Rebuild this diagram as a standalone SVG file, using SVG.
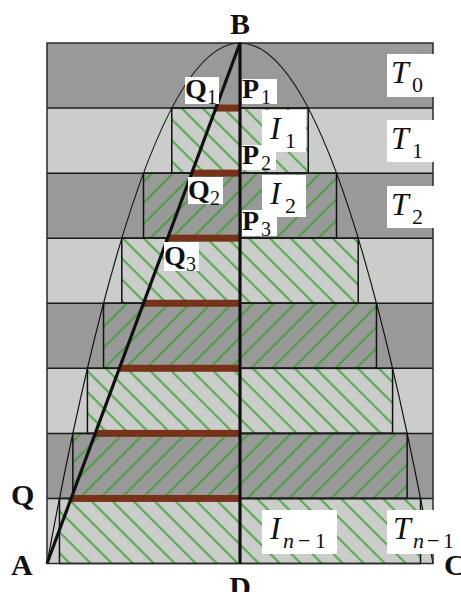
<svg xmlns="http://www.w3.org/2000/svg" width="461" height="592" viewBox="0 0 461 592">
<defs>
<style>
.dk{fill:#999999}
.lt{fill:#cbcdcb}
.hl{stroke:#35a02c;stroke-width:1.7}
.rc{fill:none;stroke:#111;stroke-width:1.5}
.bd{stroke:#1a1a1a;stroke-width:1.5}
.bar{fill:#76331a}
.thick{stroke:#111;stroke-width:3.2;fill:none}
.par{fill:none;stroke:#111;stroke-width:1.2}
.wb{fill:#fff}
.pt{font-family:"Liberation Serif","DejaVu Serif",serif;font-weight:bold;font-size:30px;fill:#111}
.pl{font-family:"Liberation Serif","DejaVu Serif",serif;font-weight:bold;font-size:28px;fill:#111}
.ml{font-family:"Liberation Serif","DejaVu Serif",serif;font-style:italic;font-size:32px;fill:#111}
.sb{font-weight:normal;font-style:normal;font-size:20px}
.si{font-weight:normal;font-style:italic;font-size:22px}
.su{font-weight:normal;font-style:normal;font-size:22px}
</style>
<pattern id="hback" patternUnits="userSpaceOnUse" width="14.85" height="14.85" patternTransform="rotate(-45)">
<line class="hl" x1="7.4" y1="-1" x2="7.4" y2="16"/>
</pattern>
<pattern id="hfwd" patternUnits="userSpaceOnUse" width="14.85" height="14.85" patternTransform="rotate(45)">
<line class="hl" x1="7.4" y1="-1" x2="7.4" y2="16"/>
</pattern>
</defs>

<g id="strips">
<rect class="dk" x="47" y="43" width="386" height="65.06"/>
<rect class="lt" x="47" y="108.06" width="386" height="65.07"/>
<rect class="dk" x="47" y="173.13" width="386" height="65.06"/>
<rect class="lt" x="47" y="238.19" width="386" height="65.06"/>
<rect class="dk" x="47" y="303.25" width="386" height="65.06"/>
<rect class="lt" x="47" y="368.31" width="386" height="65.07"/>
<rect class="dk" x="47" y="433.38" width="386" height="65.06"/>
<rect class="lt" x="47" y="498.44" width="386" height="65.06"/>
</g>

<g id="hatched-rects">
<rect fill="url(#hback)" x="171.76" y="108.06" width="136.48" height="65.07"/>
<rect fill="url(#hfwd)" x="143.5" y="173.13" width="193" height="65.06"/>
<rect fill="url(#hback)" x="121.81" y="238.19" width="236.38" height="65.06"/>
<rect fill="url(#hfwd)" x="103.53" y="303.25" width="272.94" height="65.06"/>
<rect fill="url(#hback)" x="87.42" y="368.31" width="305.16" height="65.07"/>
<rect fill="url(#hfwd)" x="72.86" y="433.38" width="334.28" height="65.06"/>
<rect fill="url(#hback)" x="59.47" y="498.44" width="361.06" height="65.06"/>
<rect class="rc" x="171.76" y="108.06" width="136.48" height="65.07"/>
<rect class="rc" x="143.5" y="173.13" width="193" height="65.06"/>
<rect class="rc" x="121.81" y="238.19" width="236.38" height="65.06"/>
<rect class="rc" x="103.53" y="303.25" width="272.94" height="65.06"/>
<rect class="rc" x="87.42" y="368.31" width="305.16" height="65.07"/>
<rect class="rc" x="72.86" y="433.38" width="334.28" height="65.06"/>
<rect class="rc" x="59.47" y="498.44" width="361.06" height="65.06"/>
</g>

<g id="connectors">
<path class="par" d="M47,563.5 Q240,-477.5 433,563.5"/>
<g class="bd">
<line x1="47" y1="108.06" x2="433" y2="108.06"/>
<line x1="47" y1="173.13" x2="433" y2="173.13"/>
<line x1="47" y1="238.19" x2="433" y2="238.19"/>
<line x1="47" y1="303.25" x2="433" y2="303.25"/>
<line x1="47" y1="368.31" x2="433" y2="368.31"/>
<line x1="47" y1="433.38" x2="433" y2="433.38"/>
<line x1="47" y1="498.44" x2="433" y2="498.44"/>
</g>
<rect x="47" y="43" width="386" height="520.5" fill="none" stroke="#2a2a2a" stroke-width="1.5"/>
<rect class="bar" x="215.88" y="104.56" width="24.12" height="7"/>
<rect class="bar" x="191.75" y="169.63" width="48.25" height="7"/>
<rect class="bar" x="167.63" y="234.69" width="72.37" height="7"/>
<rect class="bar" x="143.5" y="299.75" width="96.5" height="7"/>
<rect class="bar" x="119.38" y="364.81" width="120.62" height="7"/>
<rect class="bar" x="95.25" y="429.88" width="144.75" height="7"/>
<rect class="bar" x="71.13" y="494.94" width="168.87" height="7"/>
<line class="thick" x1="240" y1="43" x2="47" y2="563.5"/>
<line class="thick" x1="240" y1="43" x2="240" y2="563.5"/>
</g>

<g id="label-B"><text class="pt" x="240" y="34" text-anchor="middle">B</text></g>
<g id="label-A"><text class="pt" x="11" y="575">A</text></g>
<g id="label-Q"><text class="pt" x="11" y="505">Q</text></g>
<g id="label-C"><text class="pt" x="444" y="575">C</text></g>
<g id="label-D"><text class="pt" x="240" y="597" text-anchor="middle">D</text></g>

<g id="label-Q1"><rect class="wb" x="185" y="77" width="34" height="27"/><text class="pl" x="185" y="98">Q<tspan class="sb" x="207" y="104">1</tspan></text></g>
<g id="label-P1"><rect class="wb" x="242" y="79" width="35" height="25"/><text class="pl" x="242" y="98">P<tspan class="sb" x="261" y="104">1</tspan></text></g>
<g id="label-P2"><rect class="wb" x="242" y="145" width="34" height="25"/><text class="pl" x="242" y="164">P<tspan class="sb" x="261" y="170">2</tspan></text></g>
<g id="label-Q2"><rect class="wb" x="188" y="177" width="35" height="27"/><text class="pl" x="188" y="199">Q<tspan class="sb" x="210" y="205">2</tspan></text></g>
<g id="label-P3"><rect class="wb" x="242" y="210" width="35" height="26"/><text class="pl" x="242" y="230">P<tspan class="sb" x="261" y="236">3</tspan></text></g>
<g id="label-Q3"><rect class="wb" x="164" y="242" width="35" height="29"/><text class="pl" x="164" y="265">Q<tspan class="sb" x="186" y="271">3</tspan></text></g>

<g id="label-T0"><rect class="wb" x="387" y="54" width="47" height="43"/><text class="ml" x="391" y="83">T<tspan class="su" x="412" y="92">0</tspan></text></g>
<g id="label-T1"><rect class="wb" x="387" y="120" width="47" height="42"/><text class="ml" x="391" y="149">T<tspan class="su" x="412" y="158">1</tspan></text></g>
<g id="label-T2"><rect class="wb" x="387" y="186" width="47" height="42"/><text class="ml" x="391" y="215">T<tspan class="su" x="412" y="224">2</tspan></text></g>
<g id="label-Tn1"><rect class="wb" x="387" y="510" width="68" height="44"/><text class="ml" x="393" y="539">T<tspan class="si" x="413" y="548">n</tspan><tspan class="su" x="427" y="548">−</tspan><tspan class="su" x="443" y="548">1</tspan></text></g>
<g id="label-I1"><rect class="wb" x="262" y="110" width="44" height="42"/><text class="ml" x="270" y="139">I<tspan class="su" x="285" y="148">1</tspan></text></g>
<g id="label-I2"><rect class="wb" x="262" y="175" width="44" height="42"/><text class="ml" x="270" y="204">I<tspan class="su" x="285" y="213">2</tspan></text></g>
<g id="label-In1"><rect class="wb" x="262" y="510" width="75" height="44"/><text class="ml" x="270" y="539">I<tspan class="si" x="283" y="548">n</tspan><tspan class="su" x="298" y="548">−</tspan><tspan class="su" x="315" y="548">1</tspan></text></g>
</svg>
